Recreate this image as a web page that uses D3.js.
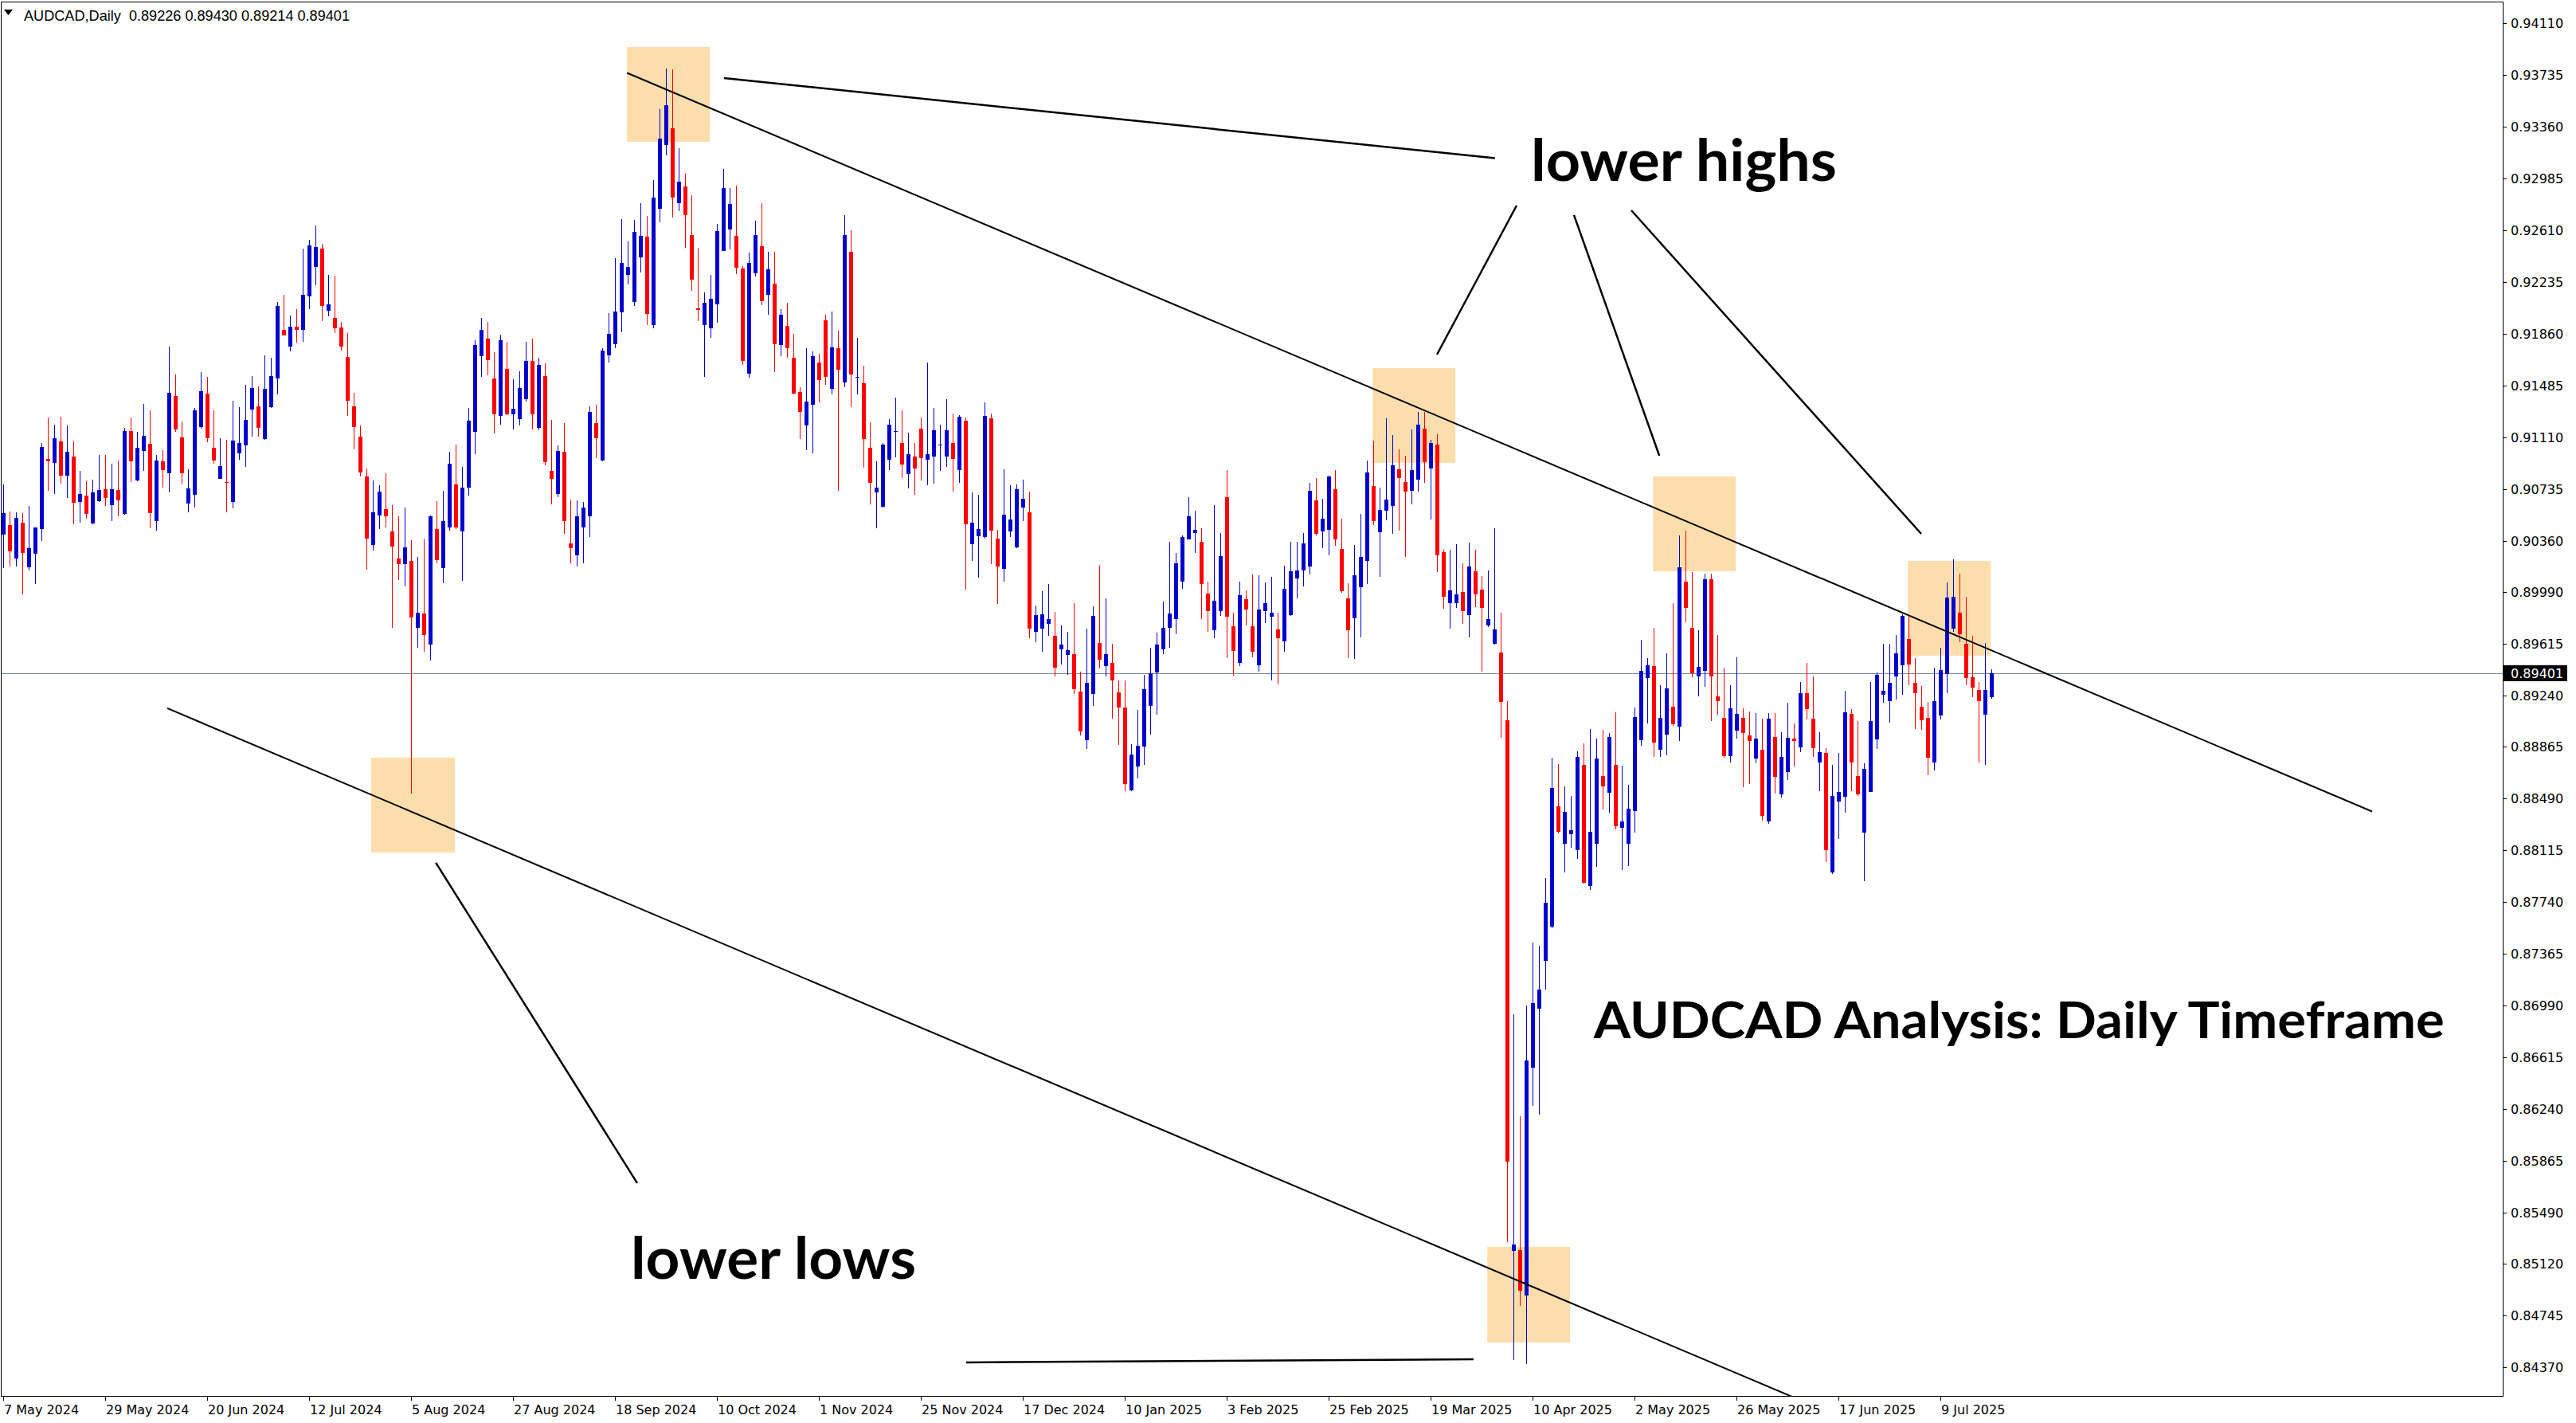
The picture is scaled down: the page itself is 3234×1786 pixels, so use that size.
<!DOCTYPE html>
<html><head><meta charset="utf-8">
<script src="https://cdn.jsdelivr.net/npm/d3@7"></script>
<style>html,body{margin:0;padding:0;background:#fff;}svg{display:block;}</style>
</head><body>
<svg id="chart" width="3234" height="1786"></svg>
<script>
// ---- DATA (daily AUDCAD bars, index 0 = 7 May 2024) ----
const opens = [
0.90403,0.90474,0.90231,0.90491,0.90167,0.90264,0.90445,0.90951,0.90922,0.91079,0.90830,0.90969,0.90639,0.90686,0.90485,0.90646,
0.90732,0.90617,0.90726,0.90555,0.91154,0.90796,0.91009,0.91062,0.90500,0.90933,0.90849,0.91409,0.91108,0.90631,0.90690,0.91183,
0.91424,0.91033,0.90810,0.90785,0.90642,0.90993,0.91051,0.91311,0.91333,0.91095,0.91325,0.91535,0.91886,0.91767,0.91910,0.91888,
0.92127,0.92346,0.92476,0.92027,0.91974,0.91903,0.91691,0.91333,0.91112,0.90825,0.90330,0.90544,0.90586,0.90425,0.90228,0.90191,
0.90213,0.89729,0.89831,0.89607,0.90443,0.90162,0.90454,0.90765,0.90427,0.90743,0.91150,0.91696,0.91824,0.91535,0.91263,0.91603,
0.91274,0.91243,0.91384,0.91660,0.91176,0.91552,0.90865,0.90697,0.91004,0.90339,0.90252,0.90458,0.90535,0.91213,0.90940,0.91700,
0.91785,0.92017,0.92288,0.92087,0.92414,0.92564,0.91922,0.92767,0.93229,0.93347,0.92803,0.92927,0.92574,0.92043,0.91924,0.91901,
0.92074,0.92461,0.92613,0.92569,0.92332,0.91571,0.92296,0.92494,0.92144,0.92223,0.91780,0.91917,0.91685,0.91437,0.91192,0.91347,
0.91651,0.91958,0.91458,0.91754,0.91504,0.92453,0.91538,0.91502,0.91033,0.90710,0.90607,0.90948,0.91146,0.91069,0.90842,0.90968,
0.91172,0.90948,0.90971,0.91051,0.90968,0.91069,0.90870,0.91229,0.90334,0.90391,0.90388,0.91249,0.90375,0.90156,0.90429,0.90311,
0.90600,0.90566,0.89700,0.89724,0.89756,0.89669,0.89574,0.89533,0.89538,0.89265,0.88913,0.89251,0.89619,0.89452,0.89476,0.89258,
0.89150,0.88552,0.88726,0.88870,0.89164,0.89404,0.89574,0.89729,0.89789,0.90060,0.90371,0.90416,0.90352,0.89976,0.89712,0.89847,
0.90675,0.89739,0.89476,0.89935,0.89739,0.89454,0.89847,0.89811,0.89715,0.89631,0.89818,0.90084,0.90146,0.90174,0.90651,0.90426,
0.90438,0.90732,0.90299,0.89942,0.89796,0.90024,0.90210,0.90756,0.90421,0.90574,0.90610,0.90876,0.90787,0.90723,0.90804,0.91170,
0.90885,0.91055,0.90275,0.89904,0.89909,0.89988,0.89823,0.90139,0.90005,0.89748,0.89610,0.89550,0.89057,0.85212,0.85220,0.84887,
0.86543,0.86968,0.87313,0.87565,0.88435,0.88166,0.88232,0.88115,0.88737,0.87855,0.88166,0.88652,0.88530,0.88737,0.88277,0.88162,
0.88402,0.88916,0.89366,0.89451,0.88847,0.88957,0.89155,0.89014,0.90063,0.89728,0.89378,0.89416,0.90080,0.89232,0.89078,0.88799,
0.88985,0.89076,0.88947,0.88783,0.88845,0.88327,0.88937,0.88524,0.88685,0.88926,0.88864,0.89255,0.89070,0.88754,0.88822,0.87958,
0.88472,0.88506,0.89105,0.88654,0.88246,0.88541,0.88922,0.89245,0.89199,0.89378,0.89459,0.89647,0.89330,0.89155,0.89076,0.88754,
0.89095,0.89395,0.89724,0.89838,0.89613,0.89370,0.89278,0.89101,0.89226];
const highs = [
0.90768,0.90573,0.90564,0.90558,0.90613,0.90458,0.91066,0.91254,0.91199,0.91258,0.91194,0.91077,0.90867,0.90790,0.90801,0.90978,
0.90978,0.90916,0.90940,0.91176,0.91252,0.91148,0.91349,0.91302,0.90978,0.91017,0.91767,0.91563,0.91223,0.90878,0.91320,0.91581,
0.91546,0.91302,0.91101,0.91090,0.91373,0.91327,0.91488,0.91552,0.91477,0.91702,0.91685,0.92089,0.92140,0.91990,0.92036,0.92476,
0.92540,0.92644,0.92509,0.92286,0.92279,0.91946,0.91864,0.91431,0.91194,0.90883,0.90794,0.90761,0.90847,0.90615,0.90536,0.90600,
0.90361,0.90242,0.90374,0.90542,0.90646,0.90723,0.91004,0.91055,0.90894,0.91320,0.91815,0.91974,0.91946,0.91725,0.91853,0.91800,
0.91528,0.91588,0.91800,0.91822,0.91685,0.91643,0.91234,0.91048,0.91213,0.90659,0.90651,0.90638,0.91334,0.91347,0.91757,0.92009,
0.92406,0.92690,0.92528,0.92685,0.92803,0.92713,0.92973,0.93489,0.93780,0.93775,0.93203,0.93020,0.92863,0.92481,0.92159,0.92283,
0.92656,0.93056,0.92912,0.92932,0.92347,0.92448,0.92680,0.92803,0.92453,0.92453,0.92038,0.92084,0.91857,0.91471,0.91757,0.91729,
0.91713,0.91999,0.92020,0.91881,0.92716,0.92610,0.91829,0.91625,0.91218,0.90935,0.91069,0.91239,0.91399,0.91306,0.91143,0.91069,
0.91252,0.91651,0.91321,0.91203,0.91386,0.91283,0.91267,0.91252,0.90710,0.90690,0.91360,0.91283,0.90437,0.90878,0.90759,0.90767,
0.90803,0.90716,0.89887,0.89995,0.90043,0.89844,0.89748,0.89701,0.89906,0.89413,0.89720,0.89882,0.90179,0.89942,0.89612,0.89346,
0.89344,0.88884,0.89133,0.89385,0.89583,0.89691,0.89916,0.90349,0.90270,0.90395,0.90677,0.90577,0.90450,0.90060,0.90617,0.90414,
0.90869,0.89835,0.90060,0.90000,0.90115,0.90110,0.90055,0.90100,0.89837,0.90179,0.90352,0.90354,0.90414,0.90778,0.90811,0.90665,
0.90830,0.90873,0.90519,0.90050,0.90328,0.90553,0.90938,0.91084,0.90744,0.91247,0.91125,0.91022,0.90974,0.91165,0.91292,0.91292,
0.91091,0.91132,0.90294,0.90294,0.90335,0.90198,0.90347,0.90294,0.90103,0.90141,0.90450,0.89837,0.89198,0.86928,0.86188,0.86990,
0.87448,0.87424,0.87917,0.88787,0.88743,0.88581,0.88510,0.88834,0.88891,0.88996,0.88925,0.88990,0.88968,0.89117,0.88729,0.88591,
0.89149,0.89640,0.89509,0.89726,0.89313,0.89544,0.89909,0.90398,0.90433,0.90132,0.89711,0.90121,0.90121,0.89676,0.89438,0.89313,
0.89515,0.89147,0.89120,0.89110,0.89070,0.89110,0.89110,0.88972,0.89186,0.89037,0.89336,0.89474,0.89376,0.88972,0.88856,0.88735,
0.88822,0.89272,0.89139,0.89053,0.88745,0.89336,0.89405,0.89613,0.89613,0.89676,0.89828,0.89809,0.89509,0.89307,0.89193,0.89440,
0.89584,0.90057,0.90225,0.90121,0.89953,0.89671,0.89336,0.89619,0.89430];
const lows = [
0.90160,0.90171,0.90171,0.89972,0.90142,0.90045,0.90359,0.90723,0.90697,0.90774,0.90668,0.90480,0.90491,0.90518,0.90480,0.90642,
0.90613,0.90502,0.90536,0.90547,0.90785,0.90790,0.90867,0.90452,0.90432,0.90743,0.90708,0.91150,0.90765,0.90564,0.90602,0.91172,
0.91073,0.90916,0.90805,0.90564,0.90595,0.90944,0.90894,0.91115,0.91115,0.91090,0.91320,0.91420,0.91844,0.91733,0.91795,0.91800,
0.92038,0.92211,0.91950,0.91988,0.91866,0.91736,0.91263,0.91020,0.90827,0.90149,0.90290,0.90445,0.90454,0.89729,0.90076,0.90027,
0.88527,0.89585,0.89557,0.89492,0.90197,0.90052,0.90434,0.90443,0.90069,0.90688,0.90989,0.91546,0.91557,0.91139,0.91199,0.91270,
0.91165,0.91194,0.91369,0.91165,0.91161,0.90905,0.90622,0.90675,0.90411,0.90195,0.90174,0.90195,0.90388,0.90960,0.90935,0.91649,
0.91752,0.91868,0.92216,0.92061,0.92301,0.91919,0.91896,0.92669,0.93149,0.92703,0.92747,0.92479,0.92172,0.91948,0.91548,0.91832,
0.91942,0.92456,0.92473,0.92293,0.91636,0.91538,0.92275,0.92064,0.91999,0.91584,0.91698,0.91687,0.91417,0.91094,0.91017,0.90994,
0.91360,0.91491,0.91422,0.90723,0.91471,0.91329,0.91417,0.90888,0.90625,0.90448,0.90602,0.90870,0.90963,0.90814,0.90736,0.90690,
0.90798,0.90762,0.90770,0.90868,0.90893,0.90713,0.90780,0.90007,0.90213,0.90089,0.90375,0.90187,0.89900,0.90061,0.90388,0.90303,
0.90504,0.89650,0.89624,0.89557,0.89672,0.89373,0.89461,0.89385,0.89248,0.88949,0.88853,0.89164,0.89432,0.89377,0.89071,0.88882,
0.88542,0.88542,0.88638,0.88733,0.88954,0.89097,0.89535,0.89586,0.89681,0.90012,0.90366,0.90270,0.89791,0.89701,0.89655,0.89815,
0.89511,0.89380,0.89449,0.89748,0.89514,0.89413,0.89760,0.89349,0.89320,0.89557,0.89815,0.89940,0.90026,0.90112,0.90400,0.90306,
0.90256,0.90325,0.89983,0.89511,0.89504,0.89660,0.90043,0.90474,0.90095,0.90507,0.90407,0.90433,0.90239,0.90624,0.90718,0.90780,
0.90514,0.90131,0.89868,0.89724,0.89870,0.89756,0.89660,0.89880,0.89413,0.89732,0.89605,0.88930,0.85275,0.84421,0.84814,0.84394,
0.86264,0.86201,0.87109,0.87551,0.88236,0.87953,0.88135,0.88054,0.87876,0.87830,0.87993,0.88413,0.88388,0.88267,0.87973,0.88004,
0.88244,0.88876,0.89037,0.88793,0.88793,0.88806,0.89018,0.88908,0.89769,0.89370,0.89232,0.89303,0.89053,0.89101,0.88789,0.88754,
0.88928,0.88575,0.88599,0.88749,0.88333,0.88310,0.88529,0.88500,0.88626,0.88726,0.88829,0.89066,0.88791,0.88547,0.88033,0.87946,
0.88200,0.88391,0.88547,0.88508,0.87894,0.88536,0.88853,0.89187,0.89043,0.89209,0.89245,0.89313,0.88997,0.88991,0.88658,0.88697,
0.89066,0.89257,0.89701,0.89626,0.89313,0.89228,0.88754,0.88737,0.89214];
const closes = [
0.90558,0.90281,0.90525,0.90270,0.90304,0.90454,0.91037,0.90933,0.91101,0.90830,0.91004,0.90635,0.90697,0.90555,0.90708,0.90726,
0.90668,0.90732,0.90653,0.91154,0.90933,0.91033,0.91119,0.90560,0.90940,0.90872,0.91431,0.91165,0.90849,0.90737,0.91302,0.91442,
0.91104,0.90940,0.90900,0.90778,0.91084,0.91066,0.91234,0.91466,0.91179,0.91459,0.91552,0.92060,0.91846,0.91910,0.91888,0.92140,
0.92498,0.92487,0.92060,0.92072,0.91901,0.91767,0.91373,0.91183,0.90856,0.90376,0.90564,0.90715,0.90536,0.90319,0.90191,0.90310,
0.89804,0.89837,0.89678,0.90536,0.90220,0.90500,0.90916,0.90454,0.90743,0.91227,0.91778,0.91886,0.91667,0.91274,0.91811,0.91274,
0.91316,0.91466,0.91660,0.91274,0.91632,0.90931,0.90810,0.91009,0.90504,0.90308,0.90535,0.90600,0.91293,0.91102,0.91736,0.91857,
0.92020,0.92373,0.92345,0.92597,0.92569,0.92004,0.92845,0.93272,0.93515,0.92847,0.92961,0.92716,0.92249,0.92033,0.92084,0.92113,
0.92602,0.92914,0.92801,0.92339,0.91664,0.92373,0.92574,0.92097,0.92327,0.91785,0.91994,0.91757,0.91427,0.91290,0.91368,0.91698,
0.91522,0.91546,0.91759,0.91600,0.92574,0.91566,0.91548,0.91094,0.90780,0.90746,0.91058,0.91203,0.91156,0.90914,0.90986,0.90881,
0.90960,0.90986,0.91161,0.91058,0.91159,0.90950,0.91257,0.90481,0.90491,0.90445,0.91265,0.90432,0.90174,0.90548,0.90515,0.90734,
0.90664,0.89720,0.89820,0.89827,0.89791,0.89440,0.89607,0.89566,0.89286,0.88978,0.89332,0.89815,0.89497,0.89538,0.89349,0.89152,
0.88595,0.88810,0.88872,0.89284,0.89401,0.89607,0.89727,0.89832,0.90198,0.90388,0.90534,0.90438,0.90043,0.89847,0.89923,0.90249,
0.89811,0.89562,0.89964,0.89863,0.89552,0.89861,0.89904,0.89835,0.89650,0.90012,0.90139,0.90143,0.90340,0.90720,0.90409,0.90517,
0.90826,0.90371,0.89995,0.89708,0.90110,0.90241,0.90854,0.90502,0.90581,0.90658,0.90907,0.90811,0.90713,0.90871,0.91201,0.90931,
0.91067,0.90251,0.89954,0.90000,0.89971,0.89847,0.90172,0.89973,0.89875,0.89791,0.89717,0.89193,0.85857,0.85261,0.84922,0.86594,
0.87009,0.87104,0.87735,0.88569,0.88251,0.88394,0.88261,0.88793,0.87882,0.88247,0.88781,0.88581,0.88939,0.88293,0.88326,0.88419,
0.89082,0.89416,0.89457,0.88899,0.89076,0.89289,0.89032,0.90167,0.89875,0.89399,0.89445,0.90080,0.89376,0.89197,0.88799,0.89145,
0.89105,0.88966,0.88910,0.88926,0.88366,0.89070,0.88651,0.88793,0.88932,0.88910,0.89255,0.89141,0.88858,0.88828,0.88119,0.88510,
0.88539,0.89116,0.88754,0.88524,0.88706,0.89053,0.89388,0.89272,0.89330,0.89544,0.89815,0.89465,0.89257,0.89060,0.88789,0.89197,
0.89422,0.89948,0.89953,0.89684,0.89366,0.89297,0.89199,0.89278,0.89401];

const dateLabels = ["7 May 2024","29 May 2024","20 Jun 2024","12 Jul 2024","5 Aug 2024","27 Aug 2024",
  "18 Sep 2024","10 Oct 2024","1 Nov 2024","25 Nov 2024","17 Dec 2024","10 Jan 2025","3 Feb 2025",
  "25 Feb 2025","19 Mar 2025","10 Apr 2025","2 May 2025","26 May 2025","17 Jun 2025","9 Jul 2025"];
const barsPerDateLabel = 16;
const priceTicks = [0.94110,0.93735,0.93360,0.92985,0.92610,0.92235,0.91860,0.91485,0.91110,0.90735,
  0.90360,0.89990,0.89615,0.89240,0.88865,0.88490,0.88115,0.87740,0.87365,0.86990,0.86615,0.86240,
  0.85865,0.85490,0.85120,0.84745,0.84370];
const symbolTitle = "AUDCAD,Daily";
const lastBarOHLC = [0.89226, 0.89430, 0.89214, 0.89401];
const lastPrice = 0.89401;

// annotation objects anchored in [bar index, price]
const trendLines = [
  [[97.9, 0.93749], [371.75, 0.88397]],
  [[25.75, 0.89145], [290, 0.83975]]
];
const pointerLines = [
  [[113.1, 0.93712], [234.1, 0.93131]],
  [[237.5, 0.92788], [225.0, 0.91708]],
  [[246.5, 0.92719], [259.9, 0.90975]],
  [[255.5, 0.92753], [301.0, 0.90409]],
  [[67.9, 0.88025], [99.5, 0.85704]],
  [[151.1, 0.84405], [230.75, 0.84428]]
];
const boxes = [
  [97.9, 110.9, 0.93937, 0.93250],
  [214.9, 227.9, 0.91610, 0.90923],
  [258.9, 271.9, 0.90825, 0.90138],
  [298.9, 311.9, 0.90213, 0.89526],
  [57.75, 70.9, 0.88787, 0.88100],
  [232.9, 245.9, 0.85242, 0.84549]
];
const textNotes = [
  {text: "lower highs", bar: 239.75, price: 0.92967},
  {text: "lower lows", bar: 98.5, price: 0.85011},
  {text: "AUDCAD Analysis: Daily Timeframe", bar: 249.6, price: 0.86754}
];

// ---- LAYOUT ----
const W = 3234, H = 1786;
const plot = {left: 1, right: 3142, top: 2, bottom: 1752};
const svg = d3.select("#chart");

const x = d3.scaleLinear().domain([0, 1]).range([4, 12]);          // 8 px per bar
const y = d3.scaleLinear().domain([0.84370, 0.94110]).range([1716, 29]);

svg.append("rect").attr("width", W).attr("height", H).attr("fill", "#fff");

svg.append("defs").append("clipPath").attr("id", "clip")
  .append("rect").attr("x", plot.left + 1).attr("y", plot.top + 1)
  .attr("width", plot.right - plot.left - 1).attr("height", plot.bottom - plot.top - 1);

const g = svg.append("g").attr("clip-path", "url(#clip)");

// background boxes
g.selectAll("rect.box").data(boxes).enter().append("rect").attr("class", "box")
  .attr("x", d => x(d[0])).attr("width", d => x(d[1]) - x(d[0]))
  .attr("y", d => y(d[2])).attr("height", d => y(d[3]) - y(d[2]))
  .attr("fill", "#FCDEAC");

// current price line
g.append("line").attr("x1", plot.left).attr("x2", plot.right)
  .attr("y1", Math.round(y(lastPrice)) + 0.5).attr("y2", Math.round(y(lastPrice)) + 0.5)
  .attr("stroke", "#778899").attr("stroke-width", 1);

// candles
const bars = d3.range(opens.length).map(i => ({i, o: opens[i], h: highs[i], l: lows[i], c: closes[i]}));
const colorOf = d => d.c >= d.o ? "#0000CD" : "#FF0000";
const cg = g.append("g");
cg.selectAll("rect.wick").data(bars).enter().append("rect").attr("class", "wick")
  .attr("x", d => Math.round(x(d.i)))
  .attr("width", 1)
  .attr("y", d => Math.round(y(d.h)))
  .attr("height", d => Math.max(1, Math.round(y(d.l)) - Math.round(y(d.h))))
  .attr("fill", colorOf);
cg.selectAll("rect.body").data(bars).enter().append("rect").attr("class", "body")
  .attr("x", d => Math.round(x(d.i)) - 2)
  .attr("width", 5)
  .attr("y", d => Math.round(y(Math.max(d.o, d.c))))
  .attr("height", d => Math.max(1, Math.round(y(Math.min(d.o, d.c))) - Math.round(y(Math.max(d.o, d.c)))))
  .attr("fill", colorOf);

// trend lines and pointer lines
const lineGen = d3.line().x(d => x(d[0])).y(d => y(d[1]));
g.selectAll("path.trend").data(trendLines).enter().append("path").attr("class", "trend")
  .attr("d", lineGen).attr("stroke", "#000").attr("stroke-width", 2).attr("fill", "none");
g.selectAll("path.pointer").data(pointerLines).enter().append("path").attr("class", "pointer")
  .attr("d", lineGen).attr("stroke", "#000").attr("stroke-width", 2.5).attr("fill", "none");

// text notes
const noteFont = "Lato, 'Open Sans', sans-serif";
const noteSizes = [72, 72, 64];
const noteWidths = [384, 358, 1068];
g.selectAll("text.note").data(textNotes).enter().append("text").attr("class", "note")
  .attr("x", d => x(d.bar)).attr("y", d => y(d.price))
  .attr("font-family", noteFont).attr("font-weight", 700)
  .attr("font-size", (d, k) => noteSizes[k])
  .attr("textLength", (d, k) => noteWidths[k]).attr("lengthAdjust", "spacingAndGlyphs")
  .attr("fill", "#000").text(d => d.text);

// frame
svg.append("rect").attr("x", plot.left + 0.5).attr("y", plot.top + 0.5)
  .attr("width", plot.right - plot.left).attr("height", plot.bottom - plot.top)
  .attr("fill", "none").attr("stroke", "#000").attr("stroke-width", 1);

// right price axis
const axisFont = "'DejaVu Sans', Verdana, sans-serif";
const pa = svg.append("g");
pa.selectAll("line").data(priceTicks).enter().append("line")
  .attr("x1", plot.right + 0.5).attr("x2", plot.right + 5)
  .attr("y1", d => Math.round(y(d)) + 0.5).attr("y2", d => Math.round(y(d)) + 0.5)
  .attr("stroke", "#000");
pa.selectAll("text").data(priceTicks).enter().append("text")
  .attr("x", plot.right + 10).attr("y", d => y(d) + 6)
  .attr("font-family", axisFont).attr("font-size", 16).attr("fill", "#000")
  .text(d => d.toFixed(5));

// last price tag
const ly = Math.round(y(lastPrice));
svg.append("rect").attr("x", plot.right + 1).attr("y", ly - 10).attr("width", 80).attr("height", 20).attr("fill", "#000");
svg.append("text").attr("x", plot.right + 10).attr("y", ly + 6)
  .attr("font-family", axisFont).attr("font-size", 16).attr("fill", "#fff").text(lastPrice.toFixed(5));

// bottom date axis
const da = svg.append("g");
const dateTicks = dateLabels.map((t, k) => ({t, i: k * barsPerDateLabel}));
da.selectAll("line").data(dateTicks).enter().append("line")
  .attr("x1", d => Math.round(x(d.i)) + 0.5).attr("x2", d => Math.round(x(d.i)) + 0.5)
  .attr("y1", plot.bottom + 0.5).attr("y2", plot.bottom + 6)
  .attr("stroke", "#000");
da.selectAll("text").data(dateTicks).enter().append("text")
  .attr("x", d => x(d.i) + 1).attr("y", plot.bottom + 23)
  .attr("font-family", axisFont).attr("font-size", 16).attr("fill", "#000")
  .text(d => d.t);

// header
svg.append("path").attr("d", "M5,12 L16,12 L10.5,19 Z").attr("fill", "#000");
svg.append("text").attr("x", 30).attr("y", 26)
  .attr("font-family", "'Liberation Sans', Arial, sans-serif").attr("font-size", 18).attr("fill", "#000")
  .attr("xml:space", "preserve")
  .attr("textLength", 409).attr("lengthAdjust", "spacingAndGlyphs")
  .text(symbolTitle + "  " + lastBarOHLC.map(v => v.toFixed(5)).join(" "));
</script>
</body></html>
